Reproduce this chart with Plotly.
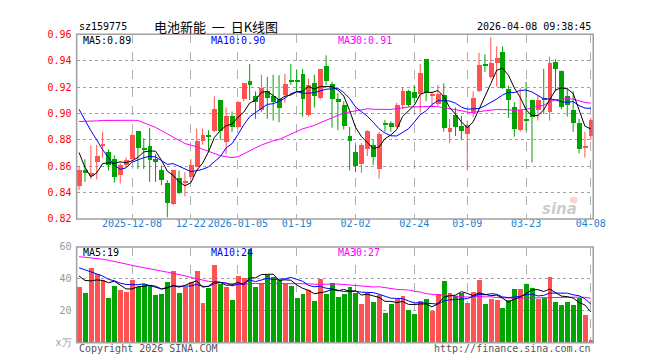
import numpy as np
import plotly.graph_objects as go

# ---------------- data ----------------
dates = (
    ["2025-11-25", "2025-11-26", "2025-11-27", "2025-11-28"]
    + ["2025-12-%02d" % d for d in [1, 2, 3, 4, 5, 8, 9, 10, 11, 12, 15, 16, 17, 18, 19,
                                    22, 23, 24, 25, 26, 29, 30, 31]]
    + ["2026-01-%02d" % d for d in [5, 6, 7, 8, 9, 12, 13, 14, 15, 16, 19, 20, 21, 22, 23,
                                    26, 27, 28, 29, 30]]
    + ["2026-02-%02d" % d for d in [2, 3, 4, 5, 6, 9, 10, 11, 12, 13, 24, 25, 26, 27]]
    + ["2026-03-%02d" % d for d in [2, 3, 4, 5, 6, 9, 10, 11, 12, 13, 16, 17, 18, 19, 20,
                                    23, 24, 25, 26, 27, 30, 31]]
    + ["2026-04-%02d" % d for d in [1, 2, 3, 7, 8]]
)

tick_dates = ["2025-12-08", "2025-12-22", "2026-01-05", "2026-01-19", "2026-02-02",
              "2026-02-24", "2026-03-09", "2026-03-23", "2026-04-08"]
tick_labels = ["2025-12-08", "12-22", "2026-01-05", "01-19", "02-02",
               "02-24", "03-09", "03-23", "04-08"]

opens = [0.8445, 0.8567, 0.8526, 0.8628, 0.8751, 0.8702, 0.8653, 0.8530, 0.8609, 0.8653,
         0.8861, 0.8733, 0.8751, 0.8653, 0.8572, 0.8469, 0.8310, 0.8506, 0.8477, 0.8518,
         0.8592, 0.8787, 0.8834, 0.8866, 0.9100, 0.8780, 0.8976, 0.8897, 0.9105, 0.9240,
         0.9130, 0.9020, 0.9167, 0.9130, 0.9105, 0.9137, 0.9247, 0.9250, 0.9294, 0.8983,
         0.9228, 0.9118, 0.9357, 0.9220, 0.9105, 0.9064, 0.8829, 0.8707, 0.8616, 0.8731,
         0.8755, 0.8574, 0.8922, 0.8927, 0.8897, 0.9064, 0.9167, 0.9160, 0.9142, 0.9411,
         0.9130, 0.9069, 0.9135, 0.8856, 0.8983, 0.8902, 0.8841, 0.9008, 0.9167, 0.9370,
         0.9277, 0.9380, 0.9460, 0.9186, 0.9049, 0.8873, 0.8951, 0.9100, 0.9020, 0.9110,
         0.9008, 0.9387, 0.9321, 0.9130, 0.9027, 0.8927, 0.8741, 0.8829]
highs = [0.8604, 0.8653, 0.8755, 0.8763, 0.8861, 0.8726, 0.8682, 0.8628, 0.8665, 0.8848,
         0.8861, 0.8812, 0.8890, 0.8689, 0.8604, 0.8494, 0.8572, 0.8567, 0.8555, 0.8653,
         0.8885, 0.8885, 0.8873, 0.9130, 0.9100, 0.9044, 0.9015, 0.9093, 0.9228, 0.9375,
         0.9167, 0.9294, 0.9277, 0.9294, 0.9289, 0.9301, 0.9375, 0.9333, 0.9338, 0.9264,
         0.9294, 0.9338, 0.9440, 0.9240, 0.9154, 0.9093, 0.8897, 0.8763, 0.8775, 0.8873,
         0.8800, 0.8861, 0.8951, 0.8941, 0.9081, 0.9196, 0.9179, 0.9216, 0.9375, 0.9411,
         0.9167, 0.9216, 0.9228, 0.8959, 0.9044, 0.8983, 0.8946, 0.9167, 0.9460, 0.9448,
         0.9578, 0.9509, 0.9509, 0.9211, 0.9086, 0.9191, 0.9240, 0.9105, 0.9142, 0.9338,
         0.9431, 0.9411, 0.9326, 0.9196, 0.9167, 0.8959, 0.8861, 0.8966]
lows = [0.8420, 0.8481, 0.8501, 0.8499, 0.8665, 0.8567, 0.8476, 0.8469, 0.8599, 0.8641,
        0.8579, 0.8579, 0.8481, 0.8481, 0.8457, 0.8212, 0.8305, 0.8388, 0.8371, 0.8506,
        0.8592, 0.8763, 0.8714, 0.8861, 0.8800, 0.8689, 0.8861, 0.8885, 0.9093, 0.9100,
        0.8959, 0.9008, 0.8959, 0.8946, 0.8934, 0.9081, 0.9216, 0.9171, 0.8976, 0.8976,
        0.9044, 0.9105, 0.9216, 0.8892, 0.8873, 0.8878, 0.8567, 0.8555, 0.8550, 0.8677,
        0.8609, 0.8506, 0.8861, 0.8861, 0.8892, 0.9032, 0.9049, 0.9081, 0.9008, 0.9093,
        0.9044, 0.9057, 0.8861, 0.8775, 0.8829, 0.8800, 0.8567, 0.8971, 0.9162, 0.9313,
        0.9264, 0.9203, 0.9186, 0.8966, 0.8824, 0.8861, 0.8868, 0.8628, 0.8946, 0.8995,
        0.8946, 0.9167, 0.9032, 0.8976, 0.8861, 0.8697, 0.8665, 0.8800]
closes = [0.8567, 0.8547, 0.8543, 0.8677, 0.8763, 0.8604, 0.8518, 0.8604, 0.8641, 0.8836,
          0.8733, 0.8726, 0.8641, 0.8633, 0.8494, 0.8317, 0.8567, 0.8396, 0.8486, 0.8604,
          0.8792, 0.8836, 0.8824, 0.9032, 0.8866, 0.8976, 0.8897, 0.9081, 0.9228, 0.9211,
          0.9088, 0.9191, 0.9118, 0.9081, 0.9039, 0.9220, 0.9240, 0.9240, 0.9105, 0.9210,
          0.9130, 0.9331, 0.9240, 0.9105, 0.9081, 0.8902, 0.8787, 0.8599, 0.8755, 0.8861,
          0.8670, 0.8841, 0.8914, 0.8897, 0.9064, 0.9167, 0.9064, 0.9118, 0.9308, 0.9154,
          0.9147, 0.9142, 0.8890, 0.8890, 0.8897, 0.8866, 0.8910, 0.9118, 0.9362, 0.9362,
          0.9380, 0.9416, 0.9191, 0.9100, 0.8878, 0.9027, 0.8941, 0.8971, 0.9100, 0.9100,
          0.9380, 0.9338, 0.9049, 0.9064, 0.8927, 0.8731, 0.8746, 0.8946]
volumes = [35.1, 31.1, 46.7, 42.8, 39.4, 27.9, 35.8, 33.3, 32.1, 39.4,
           34.7, 37.0, 36.4, 29.7, 30.3, 38.2, 44.8, 31.1, 35.1, 38.2,
           44.8, 24.8, 34.3, 48.5, 37.0, 35.1, 26.7, 41.8, 40.6, 59.0,
           35.1, 37.0, 42.4, 41.2, 39.4, 37.0, 35.8, 27.9, 30.3, 33.3,
           26.1, 40.0, 30.3, 37.6, 28.5, 30.3, 35.1, 31.1, 24.2, 31.1,
           25.7, 29.7, 18.8, 24.2, 27.3, 29.1, 20.6, 18.2, 26.1, 27.3,
           20.0, 30.3, 38.5, 31.0, 29.1, 31.0, 24.8, 31.5, 39.5, 24.2,
           27.3, 26.7, 21.8, 26.7, 33.8, 33.8, 36.8, 34.5, 27.3, 27.9,
           41.5, 25.7, 23.6, 25.5, 23.5, 28.0, 17.5, 2.0]

# sessions before the first visible candle (only feed the moving averages)
prev_closes = [0.8547, 0.848, 0.859, 0.867, 0.857, 0.8518, 0.8604, 0.8641, 0.8836, 0.876,
               0.921, 0.915, 0.923, 0.921, 0.904, 0.917, 0.927, 0.924, 0.896, 0.915,
               0.9407, 0.930, 0.9377, 0.950, 0.921, 0.911, 0.890, 0.853, 0.841]
prev_volumes = [40.4, 56.0, 52.1, 59.0, 47.5, 55.4, 58.9, 57.7, 65.0, 58.3,
                60.6, 56.5, 49.8, 50.4, 57.8, 64.4, 50.7, 64.7, 67.8, 74.4,
                45.0, 60.0, 55.0, 52.0, 49.0, 45.0, 48.0, 40.0, 40.9]

# ---------------- helpers ----------------
W, H = 660, 360
PX0, PX1 = 70, 597           # plot area left/right in px
MAIN_T, MAIN_B = 21, 212
VOL_T, VOL_B = 241, 340

def px(x):
    return x / W

def py(y):
    return 1 - y / H

n = len(dates)
xi = np.arange(n)
o = np.array(opens); h = np.array(highs); l = np.array(lows); c = np.array(closes)
v = np.array(volumes)
up = c >= o

def ma(hist, vals, k):
    full = np.concatenate([np.array(hist), np.array(vals)])
    out = np.convolve(full, np.ones(k) / k, mode="valid")
    return out[-len(vals):]

ma5, ma10, ma30 = ma(prev_closes, closes, 5), ma(prev_closes, closes, 10), ma(prev_closes, closes, 30)
vma5, vma10, vma30 = ma(prev_volumes, volumes, 5), ma(prev_volumes, volumes, 10), ma(prev_volumes, volumes, 30)

RED = "#FF5252"
GREEN = "#00A400"
MONO = "DejaVu Sans Mono"

fig = go.Figure()

# wicks
for mask, col in [(up, RED), (~up, GREEN)]:
    wx, wy = [], []
    for i in xi[mask]:
        wx += [i, i, None]
        wy += [l[i], h[i], None]
    fig.add_trace(go.Scatter(x=wx, y=wy, mode="lines", line=dict(color=col, width=1),
                             xaxis="x", yaxis="y", hoverinfo="skip", showlegend=False))
# bodies
body_base = np.minimum(o, c)
body_h = np.maximum(np.abs(c - o), 0.0007)
for mask, col in [(up, RED), (~up, GREEN)]:
    fig.add_trace(go.Bar(x=xi[mask], y=body_h[mask], base=body_base[mask], width=5 / 6,
                         marker=dict(color=col, line=dict(width=0)),
                         xaxis="x", yaxis="y", showlegend=False))
# price MAs
for arr, col in [(ma30, "#FF00FF"), (ma10, "#0000FF"), (ma5, "#000000")]:
    fig.add_trace(go.Scatter(x=xi, y=arr, mode="lines", line=dict(color=col, width=1),
                             xaxis="x", yaxis="y", showlegend=False))
# volume bars
for mask, col in [(up, RED), (~up, GREEN)]:
    fig.add_trace(go.Bar(x=xi[mask], y=v[mask], width=5 / 6,
                         marker=dict(color=col, line=dict(width=0)),
                         xaxis="x2", yaxis="y2", showlegend=False))
for arr, col in [(vma30, "#FF00FF"), (vma10, "#0000FF"), (vma5, "#000000")]:
    fig.add_trace(go.Scatter(x=xi, y=arr, mode="lines", line=dict(color=col, width=1),
                             xaxis="x2", yaxis="y2", showlegend=False))

tickpos = [dates.index(d) for d in tick_dates]
# 6 px per session; candle centres land on pixel centres
xr = [-(2.5 / 6), -(2.5 / 6) + (PX1 - PX0) / 6]

grid_common = dict(showline=False, zeroline=False, ticks="")
fig.update_layout(
    width=W, height=H, margin=dict(l=0, r=0, t=0, b=0),
    paper_bgcolor="white", plot_bgcolor="white", barmode="overlay", bargap=0,
    showlegend=False,
    xaxis=dict(domain=[px(PX0), px(PX1)], range=xr, tickvals=tickpos, ticktext=tick_labels,
               tickangle=0, showgrid=True, gridcolor="#B0B0B0", griddash="dash", gridwidth=1,
               tickfont=dict(family=MONO, size=10, color="#1E80D0"), anchor="y",
               ticklabelstandoff=-3, **grid_common),
    yaxis=dict(domain=[py(MAIN_B), py(MAIN_T)], range=[0.82, 0.96],
               tickvals=[0.82, 0.84, 0.86, 0.88, 0.90, 0.92, 0.94, 0.96],
               ticktext=["0.82", "0.84", "0.86", "0.88", "0.90", "0.92", "0.94", "0.96"],
               showgrid=True, gridcolor="#A0A0A0", griddash="dot", gridwidth=1,
               tickfont=dict(family=MONO, size=10, color="#FF0000"), anchor="x",
               ticklabelstandoff=4, **grid_common),
    xaxis2=dict(domain=[px(PX0), px(PX1)], range=xr, tickvals=tickpos, showticklabels=False,
                showgrid=True, gridcolor="#B0B0B0", griddash="dash", gridwidth=1,
                anchor="y2", **grid_common),
    yaxis2=dict(domain=[py(VOL_B), py(VOL_T)], range=[0, 60], tickvals=[0, 20, 40, 60],
                ticktext=["x万", "20", "40", "60"],
                showgrid=True, gridcolor="#A0A0A0", griddash="dot", gridwidth=1,
                tickfont=dict(family=MONO, size=10, color="#999999"), anchor="x2",
                ticklabelstandoff=4, **grid_common),
)

# panel borders
for t, b in [(MAIN_T, MAIN_B), (VOL_T, VOL_B)]:
    fig.add_shape(type="rect", xref="paper", yref="paper", x0=px(PX0), x1=px(PX1),
                  y0=py(b), y1=py(t), line=dict(color="#A0A0A0", width=1.5), layer="above")

def txt(s, x, y, color="#000", size=10, anchor="left", family=MONO, **kw):
    fig.add_annotation(text=s, x=px(x), y=py(y), xref="paper", yref="paper",
                       xanchor=anchor, yanchor="middle", showarrow=False,
                       font=dict(family=family, size=size, color=color), **kw)

txt("sz159775", 70, 13)
txt("电池新能\u00a0\u00a0一\u00a0\u00a0日K线图", 212, 13, size=13, anchor="center",
    family="Noto Sans CJK SC")
txt("2026-04-08 09:38:45", 597, 13, anchor="right")

txt("MA5:%.2f" % ma5[-1], 74, 27)
txt("MA10:%.2f" % ma10[-1], 205, 27, color="#0000FF")
txt("MA30:%.2f" % ma30[-1], 335, 27, color="#FF00FF")

txt("MA5:%d" % int(vma5[-1]), 74, 247)
txt("MA10:%d" % int(vma10[-1]), 205, 247, color="#0000FF")
txt("MA30:%d" % int(vma30[-1]), 335, 247, color="#FF00FF")

txt("Copyright 2026 SINA.COM", 70, 346, color="#555555")
txt("http://finance.sina.com.cn", 597, 346, color="#555555", anchor="right")

# watermark
fig.add_shape(type="circle", xref="paper", yref="paper", x0=px(573), x1=px(581),
              y0=py(196), y1=py(189), line=dict(width=0), fillcolor="rgba(255,80,80,0.25)")
fig.add_annotation(text="<i><b>sina</b></i>", x=px(582), y=py(202), xref="paper", yref="paper",
                   showarrow=False, font=dict(family="DejaVu Sans", size=15, color="rgba(160,160,160,0.55)"))

fig.write_html("out.html")
